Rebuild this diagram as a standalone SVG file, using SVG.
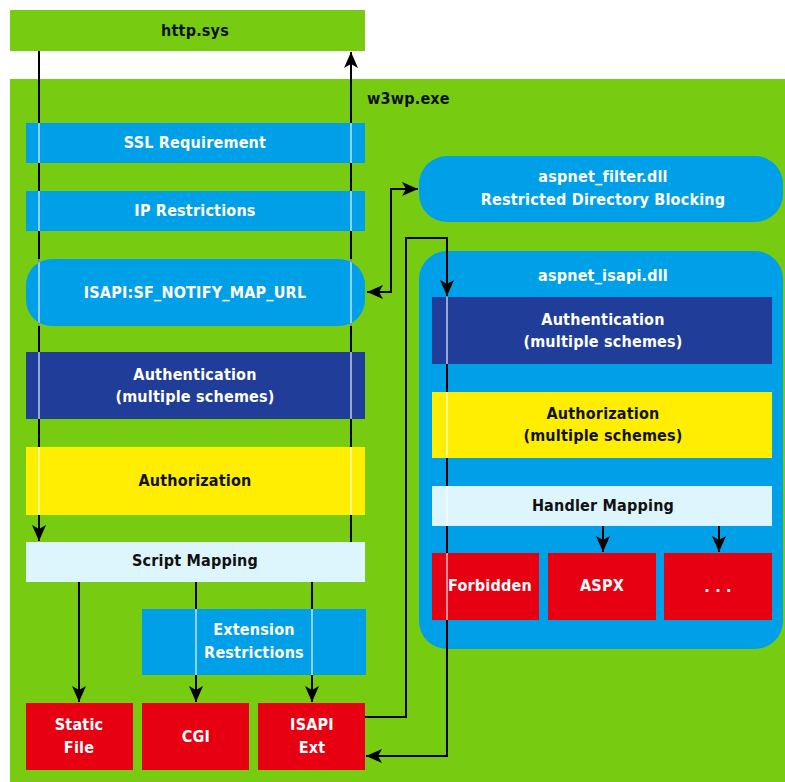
<svg xmlns="http://www.w3.org/2000/svg" width="785" height="782" viewBox="0 0 785 782">
<defs>
<style>
text{font-family:"DejaVu Sans Condensed","Liberation Sans",sans-serif;font-weight:bold;font-size:16px;letter-spacing:0.2px;text-anchor:middle}
.w{fill:#ffffff}
.k{fill:#111111}
.green{fill:#77cc11}
.blue{fill:#00a0e9}
.dblue{fill:#1f3d99}
.yellow{fill:#ffee00}
.cyan{fill:#ddf6fd}
.red{fill:#e60012}
.ln{fill:none;stroke:#000;stroke-width:2}
.pt{stroke:#ffffff;stroke-opacity:0.55;stroke-width:2;fill:none}
</style>
<marker id="ah" viewBox="0 0 16 16" refX="16" refY="8" markerWidth="16" markerHeight="16" orient="auto-start-reverse" markerUnits="userSpaceOnUse">
<path d="M0,1 L16,8 L0,15 L4,8 z" fill="#000"/>
</marker>
</defs>
<rect width="785" height="782" fill="#ffffff"/>
<g id="httpsys">
<rect class="green" x="10" y="10" width="355" height="41"/>
<text class="k" x="195" y="36">http.sys</text>
</g>
<g id="w3wp">
<rect class="green" x="10" y="79" width="775" height="703"/>
<text class="k" x="367" y="104" style="text-anchor:start">w3wp.exe</text>
</g>
<g id="aspnet_filter">
<rect class="blue" x="419" y="156" width="364" height="66" rx="28"/>
<text class="w" x="603" y="182">aspnet_filter.dll</text>
<text class="w" x="603" y="205">Restricted Directory Blocking</text>
</g>
<g id="aspnet_isapi">
<rect class="blue" x="419" y="251" width="364" height="398" rx="28"/>
<text class="w" x="603" y="281">aspnet_isapi.dll</text>
</g>
<g id="connectors">
<path class="ln" d="M39,51 V541" marker-end="url(#ah)"/>
<path class="ln" d="M351,542 V52" marker-end="url(#ah)"/>
<path class="ln" d="M367,292 H391 V189 H418" marker-start="url(#ah)" marker-end="url(#ah)"/>
<path class="ln" d="M365,717 H406 V238 H447 V296" marker-end="url(#ah)"/>
<path class="ln" d="M447,364 V756 H366" marker-end="url(#ah)"/>
<path class="ln" d="M79,582 V702" marker-end="url(#ah)"/>
<path class="ln" d="M196,582 V702" marker-end="url(#ah)"/>
<path class="ln" d="M312,582 V702" marker-end="url(#ah)"/>
<path class="ln" d="M603,526 V552" marker-end="url(#ah)"/>
<path class="ln" d="M719,526 V552" marker-end="url(#ah)"/>
</g>
<g id="ssl">
<rect class="blue" x="26" y="123" width="339" height="40"/>
<text class="w" x="195" y="148">SSL Requirement</text>
</g>
<g id="ip">
<rect class="blue" x="26" y="191" width="339" height="40"/>
<text class="w" x="195" y="216">IP Restrictions</text>
</g>
<g id="mapurl">
<rect class="blue" x="26" y="259" width="339" height="67" rx="26"/>
<text class="w" x="195" y="298">ISAPI:SF_NOTIFY_MAP_URL</text>
</g>
<g id="authn">
<rect class="dblue" x="26" y="352" width="339" height="67"/>
<text class="w" x="195" y="380">Authentication</text>
<text class="w" x="195" y="402">(multiple schemes)</text>
</g>
<g id="authz">
<rect class="yellow" x="26" y="447" width="339" height="68"/>
<text class="k" x="195" y="486">Authorization</text>
</g>
<g id="scriptmap">
<rect class="cyan" x="26" y="542" width="339" height="40"/>
<text class="k" x="195" y="566">Script Mapping</text>
</g>
<g id="extrestr">
<rect class="blue" x="142" y="609" width="224" height="66"/>
<text class="w" x="254" y="635">Extension</text>
<text class="w" x="254" y="658">Restrictions</text>
</g>
<g id="static">
<rect class="red" x="26" y="703" width="107" height="67"/>
<text class="w" x="79" y="730">Static</text>
<text class="w" x="79" y="753">File</text>
</g>
<g id="cgi">
<rect class="red" x="142" y="703" width="107" height="67"/>
<text class="w" x="196" y="742">CGI</text>
</g>
<g id="isapiext">
<rect class="red" x="258" y="703" width="107" height="67"/>
<text class="w" x="312" y="730">ISAPI</text>
<text class="w" x="312" y="753">Ext</text>
</g>
<g id="authn2">
<rect class="dblue" x="432" y="297" width="340" height="67"/>
<text class="w" x="603" y="325">Authentication</text>
<text class="w" x="603" y="347">(multiple schemes)</text>
</g>
<g id="authz2">
<rect class="yellow" x="432" y="392" width="340" height="66"/>
<text class="k" x="603" y="419">Authorization</text>
<text class="k" x="603" y="441">(multiple schemes)</text>
</g>
<g id="handlermap">
<rect class="cyan" x="432" y="486" width="340" height="40"/>
<text class="k" x="603" y="511">Handler Mapping</text>
</g>
<g id="forbidden">
<rect class="red" x="432" y="553" width="107" height="67"/>
<text class="w" x="490" y="591">Forbidden</text>
</g>
<g id="aspx">
<rect class="red" x="548" y="553" width="108" height="67"/>
<text class="w" x="602" y="591">ASPX</text>
</g>
<g id="more">
<rect class="red" x="664" y="553" width="108" height="67"/>
<text class="w" x="718" y="592">. . .</text>
</g>
<g id="passthrough">
<path class="pt" d="M39,123 V163 M39,191 V231 M39,259 V326 M39,352 V419 M39,447 V515"/>
<path class="pt" d="M351,123 V163 M351,191 V231 M351,259 V326 M351,352 V419 M351,447 V515"/>
<path class="pt" d="M196,609 V675 M312,609 V675"/>
<path class="pt" d="M447,297 V364 M447,392 V458 M447,486 V526 M447,553 V620"/>
</g>
</svg>
